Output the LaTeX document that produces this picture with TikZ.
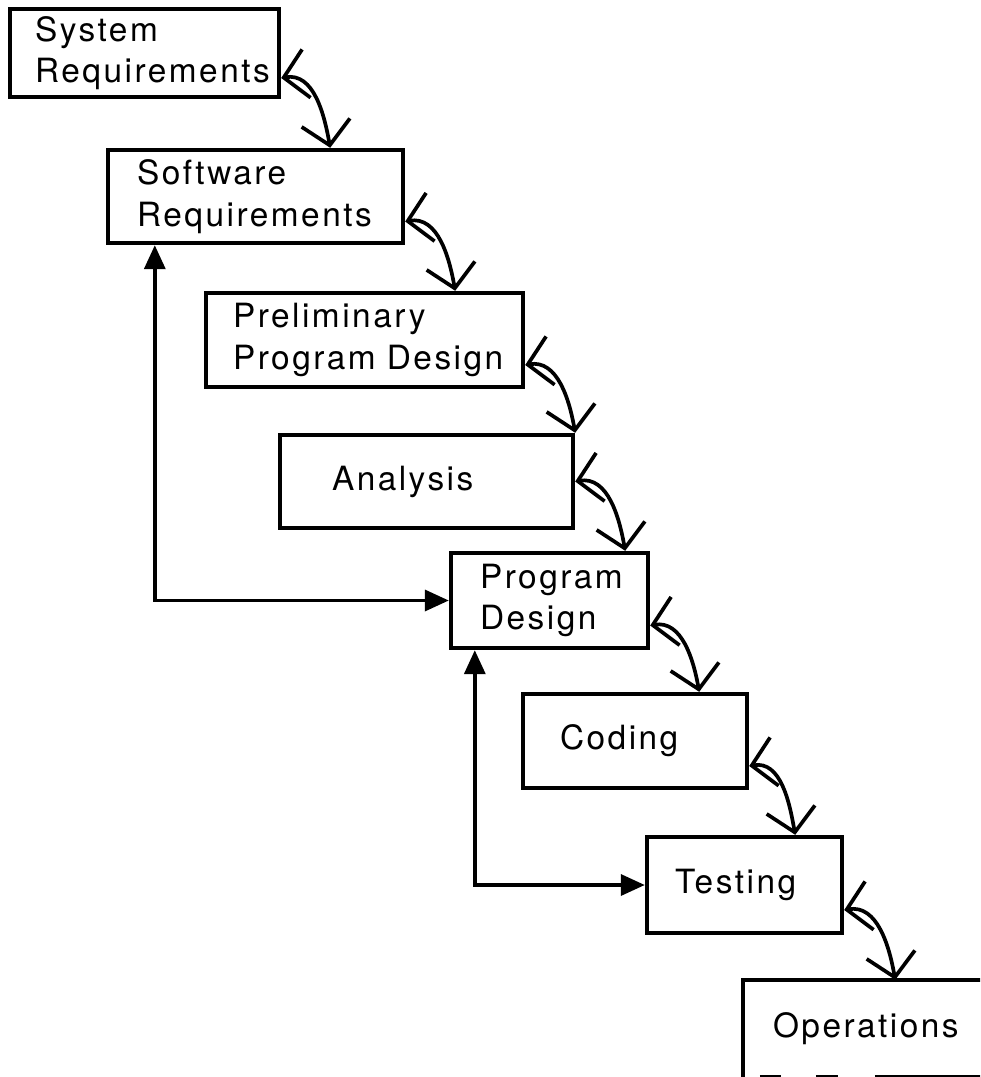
\documentclass[tikz,border=0pt]{standalone}
\usepackage{fontspec}
\setmainfont{TeX Gyre Heros}[LetterSpace=7.5]
\usetikzlibrary{arrows.meta}
\tikzset{
  stage/.style={draw,rectangle,line width=2.5pt,align=left,inner ysep=0pt,font=\fontsize{19}{23.6}\selectfont},
  flow/.style={{Straight Barb[length=4.6mm,width=9.8mm]}-{Straight Barb[length=4.6mm,width=9.8mm]},line width=2.1pt},
  rework/.style={{Triangle[length=4.8mm,width=4.2mm]}-{Triangle[length=4.8mm,width=4.2mm]},line width=2pt}
}

\begin{document}
\begin{tikzpicture}
  \clip (0,0) rectangle (19.6,-21.54);
  \node[stage,text width=4.38cm,inner xsep=5mm,minimum height=1.76cm] (sysreq) at (2.89,-1.06) {System\\Requirements};
  \node[stage,text width=4.74cm,inner xsep=5.8mm,minimum height=1.86cm] (softreq) at (5.11,-3.93) {Software\\Requirements};
  \node[stage,text width=5.26cm,inner xsep=5.4mm,minimum height=1.88cm] (prelim) at (7.29,-6.8) {Preliminary\\\mbox{Program Design}};
  \node[stage,text width=3.78cm,inner xsep=10.4mm,minimum height=1.86cm] (analysis) at (8.53,-9.63) {Analysis};
  \node[stage,text width=2.78cm,inner xsep=5.8mm,minimum height=1.9cm] (progdes) at (10.99,-12.01) {Program\\Design};
  \node[stage,text width=3.0cm,inner xsep=7.4mm,minimum height=1.88cm] (coding) at (12.7,-14.82) {Coding};
  \node[stage,text width=2.78cm,inner xsep=5.6mm,minimum height=1.92cm] (testing) at (14.89,-17.7) {Testing};
  \node[stage,draw=none,text width=4.18cm,inner xsep=5.6mm,minimum height=1.86cm] (ops) at (17.55,-20.57) {Operations};
  \draw[line width=2.5pt] (ops.south west) |- (ops.north east);
  \draw[line width=2.5pt,dash pattern=on 4.2mm off 7mm on 4.4mm off 7.4mm on 30mm] ([xshift=3.4mm]ops.south west) -- (ops.south east);
  % waterfall steps
  \draw[flow] ([yshift=-5mm]sysreq.east) to[out=10,in=100] ([xshift=9.8mm]sysreq.east |- softreq.north);
  \draw[flow] ([yshift=-5mm]softreq.east) to[out=10,in=100] ([xshift=10mm]softreq.east |- prelim.north);
  \draw[flow] ([yshift=-5mm]prelim.east) to[out=10,in=100] ([xshift=10mm]prelim.east |- analysis.north);
  \draw[flow] (analysis.east) to[out=10,in=100] ([xshift=10mm]analysis.east |- progdes.north);
  \draw[flow] ([yshift=-5mm]progdes.east) to[out=10,in=100] ([xshift=9.8mm]progdes.east |- coding.north);
  \draw[flow] ([yshift=-5mm]coding.east) to[out=10,in=100] ([xshift=9.2mm]coding.east |- testing.north);
  \draw[flow] ([yshift=-5mm]testing.east) to[out=10,in=100] ([xshift=10.2mm]testing.east |- ops.north);
  % iterations back
  \draw[rework] ([xshift=9.8mm]softreq.south west) |- (progdes.west);
  \draw[rework] ([xshift=5.2mm]progdes.south west) |- (testing.west);
\end{tikzpicture}
\end{document}
